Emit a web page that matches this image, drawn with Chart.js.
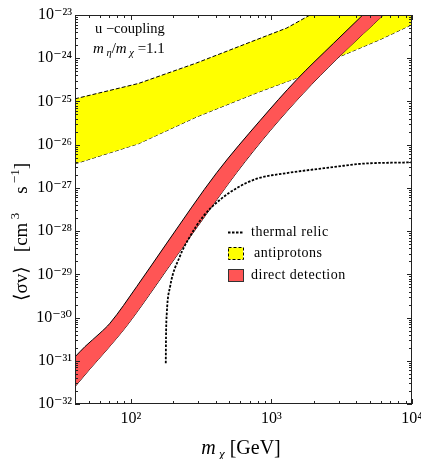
<!DOCTYPE html>
<html>
<head>
<meta charset="utf-8">
<script src="https://cdn.jsdelivr.net/npm/chart.js@4/dist/chart.umd.min.js"></script>
<style>
html,body{margin:0;padding:0;background:#fff;}
#wrap{width:421px;height:459px;}
</style>
</head>
<body>
<div id="wrap"><canvas id="c" width="421" height="459"></canvas></div>
<script>
// ---- data ----
const antiUpperMass  = [40, 113, 294, 786, 1285, 1883, 10000];
const antiUpperSigma = [1.15e-25, 2.6e-25, 7.8e-25, 2.7e-24, 5.0e-24, 1.0e-23, 5e-22];
const antiLowerMass  = [40, 113, 294, 786, 1514, 2917, 5929, 10000];
const antiLowerSigma = [3.6e-27, 1.05e-26, 4.4e-26, 1.58e-25, 3.5e-25, 1.02e-24, 2.7e-24, 6.0e-24];

const ddUpperMass  = [40, 47.1, 60.2, 71, 110, 180, 408, 829, 1514, 2755, 4463, 10000];
const ddUpperSigma = [1.23e-31, 2.13e-31, 4.35e-31, 7.41e-31, 5.22e-30, 5.28e-29, 2.25e-27, 3.60e-26, 3.21e-25, 2.19e-24, 1.0e-23, 1.33e-22];
const ddLowerMass  = [40, 51.1, 67.2, 93.3, 136.7, 179.8, 293.8, 566, 977, 1687, 2917, 4508, 6252, 10000];
const ddLowerSigma = [2.52e-32, 6.47e-32, 1.78e-31, 6.41e-31, 3.54e-30, 1.27e-29, 1.20e-28, 2.27e-27, 2.09e-26, 1.55e-25, 9.57e-25, 3.69e-24, 1.0e-23, 4.8e-23];

const relicMass  = [177, 177.7, 180, 190, 223, 263, 327, 430, 566, 786, 1285, 2917, 4266, 10000];
const relicSigma = [8.8e-32, 3.6e-31, 1.27e-30, 5.2e-30, 2.6e-29, 7.5e-29, 2.19e-28, 5.3e-28, 9.9e-28, 1.63e-27, 2.2e-27, 3.1e-27, 3.6e-27, 3.9e-27];

const xTickValues = [100, 1000, 10000];
const xTickLabels = ['10²', '10³', '10⁴'];
const yTickValues = [1e-32, 1e-31, 1e-30, 1e-29, 1e-28, 1e-27, 1e-26, 1e-25, 1e-24, 1e-23];
const yTickLabels = ['10⁻³²', '10⁻³¹', '10⁻³⁰', '10⁻²⁹', '10⁻²⁸', '10⁻²⁷', '10⁻²⁶', '10⁻²⁵', '10⁻²⁴', '10⁻²³'];

const legendLabels = ['thermal relic', 'antiprotons', 'direct detection'];

// ---- helpers ----
const pts = (xs, ys) => xs.map((x, i) => ({x: x, y: ys[i]}));
const SERIF = "'Liberation Serif', 'DejaVu Serif', serif";
const YELLOW = '#ffff00';
const RED = '#ff5555';

function richWidth(ctx, parts) {
  let w = 0;
  for (const p of parts) { ctx.font = p.f; w += ctx.measureText(p.t).width; }
  return w;
}
function drawRich(ctx, parts, x, y) {
  let cx = x;
  for (const p of parts) {
    ctx.font = p.f;
    ctx.fillText(p.t, cx, y + (p.dy || 0));
    cx += ctx.measureText(p.t).width;
  }
}

const decor = {
  id: 'decor',
  afterDraw(chart) {
    const ctx = chart.ctx;
    const a = chart.chartArea;
    const xs = chart.scales.x, ys = chart.scales.y;
    ctx.save();
    // frame
    ctx.strokeStyle = '#222';
    ctx.lineWidth = 1;
    ctx.setLineDash([]);
    ctx.strokeRect(Math.round(a.left) + 0.5, Math.round(a.top) + 0.5,
                   Math.round(a.right) - Math.round(a.left) - 1, Math.round(a.bottom) - Math.round(a.top) - 1);
    // ticks (inward, all four sides)
    ctx.beginPath();
    for (let e = 1; e <= 4; e++) {
      for (let k = 1; k <= 9; k++) {
        const v = k * Math.pow(10, e);
        if (v < xs.min - 1e-9 || v > xs.max + 1e-9) continue;
        const px = Math.round(xs.getPixelForValue(v)) + 0.5;
        const len = k === 1 ? 5 : 3;
        ctx.moveTo(px, a.bottom); ctx.lineTo(px, a.bottom - len);
        ctx.moveTo(px, a.top); ctx.lineTo(px, a.top + len);
      }
    }
    for (let e = -32; e <= -23; e++) {
      for (let k = 1; k <= 9; k++) {
        const v = k * Math.pow(10, e);
        if (v < ys.min * 0.999 || v > ys.max * 1.001) continue;
        const py = Math.round(ys.getPixelForValue(v)) + 0.5;
        const len = k === 1 ? 5 : 3;
        ctx.moveTo(a.left, py); ctx.lineTo(a.left + len, py);
        ctx.moveTo(a.right, py); ctx.lineTo(a.right - len, py);
      }
    }
    ctx.stroke();

    ctx.fillStyle = '#000';
    ctx.textBaseline = 'alphabetic';
    ctx.textAlign = 'left';
    // annotation top-left
    drawRich(ctx, [{t: 'u −coupling', f: '14.5px ' + SERIF}], 95, 33);
    drawRich(ctx, [
      {t: 'm', f: 'italic 15px ' + SERIF},
      {t: ' η', f: 'italic 10.5px ' + SERIF, dy: 3},
      {t: '/', f: '15px ' + SERIF},
      {t: 'm', f: 'italic 15px ' + SERIF},
      {t: ' χ', f: 'italic 10.5px ' + SERIF, dy: 3},
      {t: ' =1.1', f: '15px ' + SERIF}
    ], 93, 53);

    // legend
    ctx.strokeStyle = '#000';
    ctx.lineWidth = 1.8;
    ctx.setLineDash([2.5, 1.5]);
    ctx.beginPath(); ctx.moveTo(228, 232.5); ctx.lineTo(243, 232.5); ctx.stroke();
    ctx.setLineDash([]);
    ctx.fillStyle = YELLOW;
    ctx.fillRect(228, 247.5, 15, 12);
    ctx.lineWidth = 1;
    ctx.setLineDash([3, 2]);
    ctx.strokeRect(228.5, 247.5, 15, 12);
    ctx.setLineDash([]);
    ctx.fillStyle = RED;
    ctx.fillRect(228, 269.5, 15, 12);
    ctx.strokeStyle = '#333';
    ctx.strokeRect(228.5, 269.5, 15, 12);
    ctx.fillStyle = '#000';
    ctx.font = '14px ' + SERIF;
    ctx.letterSpacing = '0.5px';
    ctx.textBaseline = 'middle';
    ctx.fillText(legendLabels[0], 251, 232);
    ctx.fillText(legendLabels[1], 254, 253);
    ctx.fillText(legendLabels[2], 251, 275);
    ctx.letterSpacing = '0px';

    // x-axis title
    ctx.textBaseline = 'alphabetic';
    const xt = [
      {t: 'm', f: 'italic 20px ' + SERIF},
      {t: ' χ', f: 'italic 13px ' + SERIF, dy: 4},
      {t: ' [GeV]', f: '20px ' + SERIF}
    ];
    const xw = richWidth(ctx, xt);
    drawRich(ctx, xt, 241 - xw / 2, 454);

    // y-axis title (rotated)
    const yt = [
      {t: '⟨σv⟩   [cm', f: '19px ' + SERIF},
      {t: ' 3', f: '13px ' + SERIF, dy: -8},
      {t: '    s', f: '19px ' + SERIF},
      {t: ' −1', f: '13px ' + SERIF, dy: -8},
      {t: ']', f: '19px ' + SERIF}
    ];
    const yw = richWidth(ctx, yt);
    ctx.translate(27, 232);
    ctx.rotate(-Math.PI / 2);
    drawRich(ctx, yt, -yw / 2, 0);
    ctx.restore();
  }
};

new Chart(document.getElementById('c'), {
  type: 'line',
  data: {
    datasets: [
      {
        label: legendLabels[0],
        data: pts(relicMass, relicSigma),
        borderColor: '#000', borderWidth: 1.8, borderDash: [2.5, 1.5],
        pointRadius: 0, fill: false, cubicInterpolationMode: 'monotone'
      },
      {
        label: legendLabels[2] + ' upper',
        data: pts(ddUpperMass, ddUpperSigma),
        borderColor: '#000', borderWidth: 1, backgroundColor: RED,
        pointRadius: 0, fill: '+1', cubicInterpolationMode: 'monotone'
      },
      {
        label: legendLabels[2] + ' lower',
        data: pts(ddLowerMass, ddLowerSigma),
        borderColor: '#000', borderWidth: 1,
        pointRadius: 0, fill: false, cubicInterpolationMode: 'monotone'
      },
      {
        label: legendLabels[1] + ' upper',
        data: pts(antiUpperMass, antiUpperSigma),
        borderColor: '#000', borderWidth: 1, borderDash: [4, 2], backgroundColor: YELLOW,
        pointRadius: 0, fill: '+1'
      },
      {
        label: legendLabels[1] + ' lower',
        data: pts(antiLowerMass, antiLowerSigma),
        borderColor: '#000', borderWidth: 1, borderDash: [4, 2],
        pointRadius: 0, fill: false
      }
    ]
  },
  options: {
    responsive: false,
    devicePixelRatio: 1,
    animation: false,
    layout: {padding: {top: 15, right: 9, left: 0, bottom: 0}},
    plugins: {legend: {display: false}, tooltip: {enabled: false}},
    scales: {
      x: {
        type: 'logarithmic', min: 40, max: 10000,
        afterBuildTicks: s => { s.ticks = xTickValues.map(v => ({value: v})); },
        afterFit: s => { s.height = 55; s.paddingLeft = 0; s.paddingRight = 0; },
        ticks: {
          callback: (v, i) => xTickLabels[i],
          autoSkip: false, maxRotation: 0, color: '#000', padding: 5,
          font: {family: SERIF, size: 16}
        },
        grid: {display: false, drawTicks: false},
        border: {display: false}
      },
      y: {
        type: 'logarithmic', min: 1e-32, max: 1e-23,
        afterBuildTicks: s => { s.ticks = yTickValues.map(v => ({value: v})); },
        afterFit: s => { s.width = 75; s.paddingTop = 0; s.paddingBottom = 0; },
        ticks: {
          callback: (v, i) => yTickLabels[i],
          autoSkip: false, color: '#000', padding: 3,
          font: {family: SERIF, size: 16}
        },
        grid: {display: false, drawTicks: false},
        border: {display: false}
      }
    }
  },
  plugins: [decor]
});
</script>
</body>
</html>
